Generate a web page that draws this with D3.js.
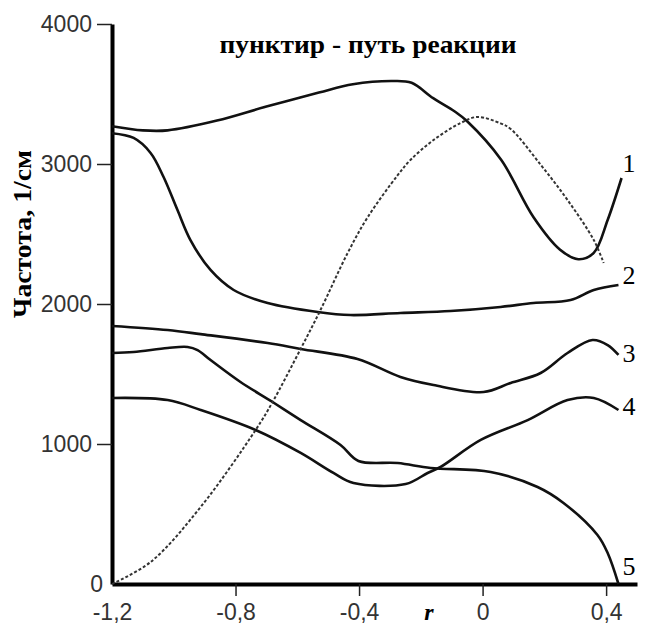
<!DOCTYPE html>
<html>
<head>
<meta charset="utf-8">
<script src="https://cdn.jsdelivr.net/npm/d3@7"></script>
<style>
  body { margin: 0; background: #fff; }
  svg { display: block; }
</style>
</head>
<body>
<div id="chart"></div>
<script>
// Данные: пары [r, частота]
const curve1 = [[-1.2, 3270], [-1.1, 3240], [-1.02, 3240], [-0.86, 3310], [-0.7, 3410], [-0.53, 3510],
  [-0.42, 3570], [-0.29, 3593], [-0.23, 3580], [-0.16, 3470], [-0.09, 3375], [-0.05, 3305],
  [0.06, 3030], [0.165, 2620], [0.25, 2390], [0.31, 2320], [0.36, 2365], [0.405, 2600], [0.45, 2900]];
const curve2 = [[-1.2, 3220], [-1.13, 3186], [-1.075, 3079], [-1.033, 2907], [-0.988, 2671], [-0.946, 2457],
  [-0.881, 2243], [-0.806, 2100], [-0.696, 2007], [-0.534, 1943], [-0.428, 1921], [-0.266, 1936],
  [-0.104, 1950], [0.058, 1979], [0.165, 2007], [0.285, 2029], [0.36, 2100], [0.44, 2136]];
const curve3 = [[-1.2, 1843], [-1.02, 1814], [-0.913, 1785], [-0.696, 1721], [-0.589, 1679], [-0.405, 1607],
  [-0.266, 1479], [-0.159, 1421], [0.003, 1371], [0.091, 1436], [0.188, 1507],
  [0.275, 1650], [0.356, 1743], [0.405, 1707], [0.44, 1636]];
const curve4 = [[-1.2, 1329], [-1.02, 1314], [-0.913, 1243], [-0.735, 1100], [-0.589, 936], [-0.483, 793],
  [-0.418, 721], [-0.249, 714], [-0.178, 793], [-0.136, 836], [-0.006, 1029], [0.146, 1171],
  [0.275, 1314], [0.36, 1329], [0.44, 1243]];
const curve5 = [[-1.2, 1650], [-1.13, 1657], [-1.02, 1686], [-0.955, 1693], [-0.923, 1671], [-0.881, 1600],
  [-0.784, 1443], [-0.68, 1300], [-0.589, 1171], [-0.46, 993], [-0.402, 879], [-0.275, 864],
  [-0.168, 829], [0.026, 800], [0.178, 693], [0.262, 579], [0.372, 350], [0.405, 221], [0.44, 0]];
const reactionPath = [[-1.2, 0], [-1.075, 157], [-0.913, 550], [-0.735, 1100], [-0.68, 1300], [-0.589, 1680],
  [-0.525, 1957], [-0.437, 2364], [-0.372, 2620], [-0.275, 2920], [-0.233, 3030], [-0.159, 3171],
  [-0.071, 3293], [-0.016, 3336], [0.058, 3290], [0.091, 3250], [0.188, 2995], [0.275, 2743],
  [0.36, 2457], [0.392, 2293]];

const curveNames = ["1", "2", "3", "4", "5"];
const labelValues = [2943, 2143, 1586, 1207, 64]; // высота подписей по оси частот
const xTicks = [-1.2, -0.8, -0.4, 0, 0.4];
const yTicks = [0, 1000, 2000, 3000, 4000];

const width = 645, height = 628;

const svg = d3.select("#chart").append("svg")
  .attr("width", width)
  .attr("height", height);

const x = d3.scaleLinear().domain([-1.2, 0.5]).range([112, 637]);
const y = d3.scaleLinear().domain([0, 4000]).range([584, 24]);

// Ось Y
const yAxis = svg.append("g")
  .attr("transform", `translate(${x(-1.2)},0)`)
  .call(d3.axisLeft(y).tickValues(yTicks).tickSizeInner(15).tickSizeOuter(0).tickPadding(5)
    .tickFormat(d => d));
yAxis.select(".domain").attr("stroke-width", 4).attr("stroke", "#000");
yAxis.selectAll(".tick line").attr("stroke-width", 1.5).attr("stroke", "#222");
yAxis.selectAll(".tick text")
  .style("font-family", "Liberation Sans, Arial, sans-serif")
  .style("font-size", "23px")
  .attr("fill", "#333");
// у нуля нет штриха
yAxis.selectAll(".tick").filter(d => d === 0).select("line").remove();
yAxis.selectAll(".tick").filter(d => d === 0).select("text").attr("x", -9);

// Ось X
const fmt = d => d === 0 ? "0" : d3.format(".1f")(d).replace(".", ",").replace("−", "-");
const xAxis = svg.append("g")
  .attr("transform", `translate(0,${y(0)})`)
  .call(d3.axisBottom(x).tickValues(xTicks).tickSizeInner(12).tickSizeOuter(0).tickPadding(8)
    .tickFormat(fmt));
xAxis.select(".domain").attr("stroke-width", 4).attr("stroke", "#000");
xAxis.selectAll(".tick line").attr("stroke-width", 1.5).attr("stroke", "#222");
xAxis.selectAll(".tick").filter(d => d === -1.2).select("line").remove();
xAxis.selectAll(".tick text")
  .style("font-family", "Liberation Sans, Arial, sans-serif")
  .style("font-size", "23px")
  .attr("fill", "#333");

// Линии
const line = d3.line()
  .x(d => x(d[0]))
  .y(d => y(d[1]))
  .curve(d3.curveCatmullRom.alpha(0.5));

const curves = [curve1, curve2, curve3, curve4, curve5];

svg.selectAll(".curve")
  .data(curves)
  .enter()
  .append("path")
  .attr("class", "curve")
  .attr("d", line)
  .attr("fill", "none")
  .attr("stroke", "#111")
  .attr("stroke-width", 2.6);

svg.append("path")
  .datum(reactionPath)
  .attr("d", line)
  .attr("fill", "none")
  .attr("stroke", "#333")
  .attr("stroke-width", 2)
  .attr("stroke-dasharray", "3,2");

// Номера кривых
svg.selectAll(".num")
  .data(curveNames)
  .enter()
  .append("text")
  .attr("class", "num")
  .attr("x", x(0.453))
  .attr("y", (d, i) => y(labelValues[i]))
  .text(d => d)
  .style("font-family", "Liberation Serif, Times New Roman, serif")
  .style("font-size", "26px")
  .attr("fill", "#000");

// Подписи
svg.append("text")
  .attr("x", 368)
  .attr("y", 53)
  .attr("text-anchor", "middle")
  .attr("textLength", 297)
  .attr("lengthAdjust", "spacingAndGlyphs")
  .text("пунктир - путь реакции")
  .style("font-family", "Liberation Serif, Times New Roman, serif")
  .style("font-weight", "bold")
  .style("font-size", "26px");

svg.append("text")
  .attr("transform", "translate(31,234) rotate(-90)")
  .attr("text-anchor", "middle")
  .attr("textLength", 168)
  .attr("lengthAdjust", "spacingAndGlyphs")
  .text("Частота, 1/см")
  .style("font-family", "Liberation Serif, Times New Roman, serif")
  .style("font-weight", "bold")
  .style("font-size", "26px");

svg.append("text")
  .attr("x", 429)
  .attr("y", 620)
  .attr("text-anchor", "middle")
  .text("r")
  .style("font-family", "Liberation Serif, Times New Roman, serif")
  .style("font-style", "italic")
  .style("font-weight", "bold")
  .style("font-size", "24px");
</script>
</body>
</html>
